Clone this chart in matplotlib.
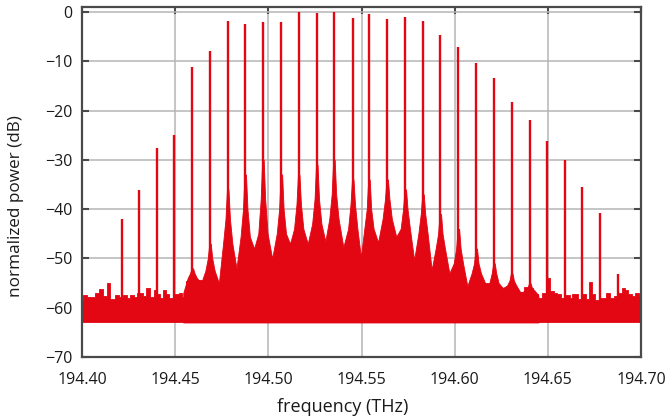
import numpy as np
import matplotlib
matplotlib.use('Agg')
import matplotlib.pyplot as plt

# ---- data ----
peak_thz = [194.4213, 194.4304, 194.4404, 194.4495, 194.4592, 194.4687, 194.4782,
            194.4876, 194.4971, 194.5070, 194.5163, 194.5260, 194.5352, 194.5453,
            194.5540, 194.5638, 194.5735, 194.5830, 194.5923, 194.6020, 194.6116,
            194.6211, 194.6306, 194.6403, 194.6496, 194.6591, 194.6685, 194.6782,
            194.6878]
peak_db = [-42.0, -36.2, -27.7, -25.0, -11.2, -7.9, -1.9, -2.4, -2.0, -2.1, 0.0,
           -0.3, 0.0, -1.3, -0.4, -1.4, -1.1, -1.9, -4.7, -7.2, -10.3, -13.5,
           -18.3, -22.0, -26.2, -30.1, -35.5, -40.8, -53.2]

# pedestal (skirt) around comb lines 5..24: trace top very close to the line,
# a little away from it, and farther away
skirt_first = 4
skirt_top_db = [-52, -47, -36, -33, -30, -33, -33, -31, -30, -34,
                -34, -34, -36, -37, -41, -44, -48, -51, -53, -55]
skirt_near_db = [-53, -50, -42, -40, -38, -40, -39, -38, -37, -39,
                 -40, -38, -40, -41, -45, -48, -51, -53, -54.5, -56]
skirt_far_db = [-54, -52.5, -47, -45.6, -45, -45, -44, -43, -42, -44,
                -44, -42, -44, -45, -48, -51, -53, -55, -55.5, -56.5]
# upper level of the trace midway between neighbouring lines
gap_db = [-57, -55, -55, -52, -48, -50, -47, -47, -46.5, -47.7, -49.7,
          -46.7, -45.6, -50.3, -52.3, -53, -55.6, -55, -56, -57, -57.5]

# noise floor: top of the band
floor_thz = [194.4000, 194.4016, 194.4035, 194.4055, 194.4080, 194.4105, 194.4125,
             194.4140, 194.4165, 194.4190, 194.4210, 194.4230, 194.4250, 194.4270,
             194.4285, 194.4300, 194.4320, 194.4335, 194.4350, 194.4375, 194.4395,
             194.4410, 194.4425, 194.4440, 194.4458, 194.4480, 194.4510, 194.4530,
             194.4548, 194.4570, 194.4595, 194.4620, 194.4700, 194.5000, 194.5300,
             194.5600, 194.5900, 194.6200, 194.6300, 194.6340, 194.6360, 194.6383,
             194.6413, 194.6430, 194.6440, 194.6458, 194.6476, 194.6503, 194.6524,
             194.6539, 194.6562, 194.6578, 194.6610, 194.6623, 194.6637, 194.6655,
             194.6673, 194.6699, 194.6712, 194.6726, 194.6744, 194.6762, 194.6798,
             194.6825, 194.6843, 194.6864, 194.6891, 194.6905, 194.6923, 194.6941,
             194.6959, 194.6977, 194.7000]
floor_db = [-58.5, -57.5, -57.9, -57.8, -57.0, -56.2, -57.6, -54.9, -58.3, -57.5,
            -57.8, -57.5, -58.0, -57.4, -57.8, -57.0, -57.1, -57.6, -56.1, -57.8,
            -56.5, -57.2, -58.0, -56.4, -57.2, -58.1, -57.2, -57.0, -57.8, -54.6,
            -53.9, -54.4, -57.5, -57.5, -57.5, -57.5, -57.5, -57.5, -57.0, -57.3,
            -56.8, -55.7, -56.1, -57.0, -57.3, -58.0, -57.1, -54.0, -56.6, -57.0,
            -57.3, -58.0, -57.4, -58.0, -57.2, -57.2, -58.3, -57.2, -58.3, -54.8,
            -57.2, -58.5, -58.0, -57.0, -58.0, -57.6, -57.0, -56.0, -56.4, -57.3,
            -57.6, -57.0, -57.6]
floor_bottom_db = -63.0

xticks = [194.40, 194.45, 194.50, 194.55, 194.60, 194.65, 194.70]
yticks = [0, -10, -20, -30, -40, -50, -60, -70]

RED = '#e30613'
FRAME = '#4a4a4a'
GRID = '#b5b5b5'
TXT = '#1a1a1a'

plt.rcParams['font.family'] = ['Open Sans', 'DejaVu Sans']
plt.rcParams['font.size'] = 12

fig = plt.figure(figsize=(6.65, 4.2), dpi=100)
ax = fig.add_axes([82 / 665, 1 - 357 / 420, (641 - 82) / 665, (357 - 7) / 420])

# noise floor band
ax.fill_between(floor_thz, floor_bottom_db, floor_db, step='mid',
                color=RED, lw=0.6, zorder=2)

# pedestals around central lines
sx, sy = [], []
for k, i in enumerate(range(skirt_first, skirt_first + len(skirt_top_db))):
    f = peak_thz[i]
    sx += [(peak_thz[i - 1] + f) / 2, f - 0.0025, f - 0.0012, f - 0.0004,
           f + 0.0004, f + 0.0012, f + 0.0025]
    sy += [gap_db[k], skirt_far_db[k], skirt_near_db[k], skirt_top_db[k],
           skirt_top_db[k], skirt_near_db[k], skirt_far_db[k]]
last = skirt_first + len(skirt_top_db) - 1
sx.append((peak_thz[last] + peak_thz[last + 1]) / 2)
sy.append(gap_db[-1])
ax.fill_between(sx, floor_bottom_db, sy, color=RED, lw=0.6, zorder=2)

# comb lines
ax.vlines(peak_thz, floor_bottom_db, peak_db, color=RED, lw=1.7, zorder=3)

ax.set_xlim(194.40, 194.70)
ax.set_ylim(-70, 1)
ax.set_xticks(xticks)
ax.set_xticklabels([f'{v:.2f}' for v in xticks])
ax.set_yticks(yticks)
ax.set_yticklabels([f'{v}'.replace('-', '\u2212') for v in yticks])

ax.grid(True, color=GRID, lw=1.1, zorder=0)
ax.set_axisbelow(True)
for s in ax.spines.values():
    s.set_color(FRAME)
    s.set_linewidth(1.6)
    s.set_zorder(4)

ax.tick_params(axis='both', direction='in', color=FRAME, width=1.5, length=4.8,
               labelcolor=TXT, labelsize=11.5)
ax.tick_params(axis='y', right=True, pad=7)
ax.tick_params(axis='x', top=True, bottom=False, pad=11)

ax.set_xlabel('frequency (THz)', color=TXT, fontsize=13, va='center')
ax.xaxis.set_label_coords((343 - 82) / 559, (357 - 407) / 350)
ax.set_ylabel('normalized power (dB)', color=TXT, fontsize=12.3, va='center')
ax.yaxis.set_label_coords((16 - 82) / 559, (357 - 206) / 350)

fig.savefig('out.png', dpi=100)
